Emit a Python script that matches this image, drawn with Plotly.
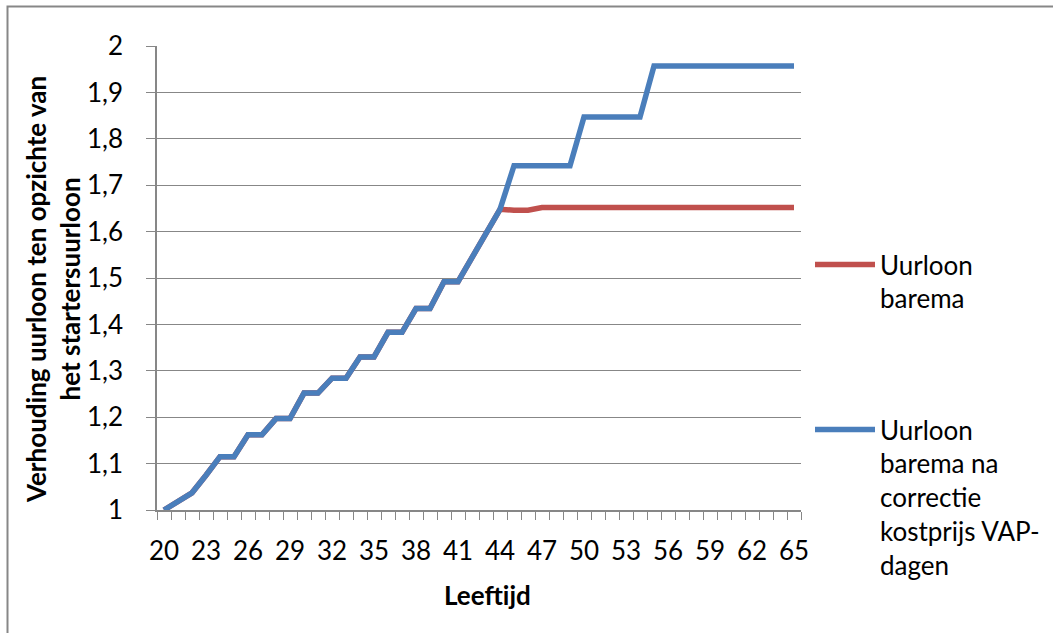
import plotly.graph_objects as go

# ---------------- data ----------------
ages = list(range(20, 66))

barema_blue = [
    1.000, 1.018, 1.037, 1.075, 1.115, 1.115, 1.162, 1.162, 1.197, 1.197,   # 20-29
    1.252, 1.252, 1.284, 1.284, 1.330, 1.330, 1.383, 1.383, 1.434, 1.434,   # 30-39
    1.492, 1.492, 1.545, 1.598, 1.648, 1.742, 1.742, 1.742, 1.742, 1.742,   # 40-49
    1.847, 1.847, 1.847, 1.847, 1.847, 1.957, 1.957, 1.957, 1.957, 1.957,   # 50-59
    1.957, 1.957, 1.957, 1.957, 1.957, 1.957,                               # 60-65
]

barema_red = [
    1.000, 1.018, 1.037, 1.075, 1.115, 1.115, 1.162, 1.162, 1.197, 1.197,   # 20-29
    1.252, 1.252, 1.284, 1.284, 1.330, 1.330, 1.383, 1.383, 1.434, 1.434,   # 30-39
    1.492, 1.492, 1.545, 1.598, 1.648, 1.646, 1.646, 1.652, 1.652, 1.652,   # 40-49
    1.652, 1.652, 1.652, 1.652, 1.652, 1.652, 1.652, 1.652, 1.652, 1.652,   # 50-59
    1.652, 1.652, 1.652, 1.652, 1.652, 1.652,                               # 60-65
]

x_tick_vals = list(range(20, 66, 3))
x_tick_text = [str(v) for v in x_tick_vals]
y_tick_vals = [1.0, 1.1, 1.2, 1.3, 1.4, 1.5, 1.6, 1.7, 1.8, 1.9, 2.0]
y_tick_text = ["1", "1,1", "1,2", "1,3", "1,4", "1,5", "1,6", "1,7", "1,8", "1,9", "2"]

name_red = "Uurloon<br>barema"
name_blue = "Uurloon<br>barema na<br>correctie<br>kostprijs VAP-<br>dagen"
x_title = "Leeftijd"
y_title = "Verhouding uurloon ten opzichte van<br>het startersuurloon"

# ---------------- layout constants (pixels) ----------------
W, H = 1053, 633
L, R, T, B = 157, 801, 46, 510
pw, ph = R - L, B - T

def px_x(p):
    return (p - L) / pw

def px_y(p):
    return (B - p) / ph

FONT = "Lato"
FS = 26
GRID = "#878787"
RED = "#C0504D"
BLUE = "#4A7EBB"

fig = go.Figure()
fig.add_trace(go.Scatter(
    x=ages, y=barema_red, mode="lines", name=name_red,
    line=dict(color=RED, width=5.5), legend="legend",
))
fig.add_trace(go.Scatter(
    x=ages, y=barema_blue, mode="lines", name=name_blue,
    line=dict(color=BLUE, width=5.5), legend="legend2",
))

fig.update_layout(
    width=W, height=H,
    margin=dict(l=L, r=W - R, t=T, b=H - B, autoexpand=False),
    paper_bgcolor="white", plot_bgcolor="white",
    font=dict(family=FONT, size=FS, color="black"),
    showlegend=True,
    legend=dict(
        x=px_x(810), y=px_y(241), xanchor="left", yanchor="top",
        valign="top", itemwidth=60, bgcolor="rgba(0,0,0,0)",
        font=dict(family=FONT, size=FS, color="black"),
    ),
    legend2=dict(
        x=px_x(810), y=px_y(406), xanchor="left", yanchor="top",
        valign="top", itemwidth=60, bgcolor="rgba(0,0,0,0)",
        font=dict(family=FONT, size=FS, color="black"),
    ),
    xaxis=dict(
        range=[19.5, 65.5], tickmode="array", tickvals=x_tick_vals,
        ticktext=x_tick_text, ticks="", showgrid=False, zeroline=False,
        showline=True, linecolor=GRID, linewidth=1.5,
        ticklabelstandoff=17, automargin=False,
        tickfont=dict(family=FONT, size=FS, color="black"),
        minor=dict(tick0=19.5, dtick=1, ticks="outside", ticklen=8,
                   tickcolor=GRID, tickwidth=1.3, showgrid=False),
    ),
    yaxis=dict(
        range=[1, 2], tickmode="array", tickvals=y_tick_vals,
        ticktext=y_tick_text, ticks="outside", ticklen=9, tickcolor=GRID,
        tickwidth=1.3, showgrid=True, gridcolor=GRID, gridwidth=1.3,
        zeroline=False, showline=True, linecolor=GRID, linewidth=1.5,
        ticklabelstandoff=18, automargin=False,
        tickfont=dict(family=FONT, size=FS, color="black"),
    ),
    annotations=[
        dict(text=y_title, x=px_x(53), y=px_y(290), xref="paper", yref="paper",
             xanchor="center", yanchor="middle", textangle=-90, showarrow=False,
             font=dict(family=FONT, size=FS, color="black", weight="bold")),
        dict(text=x_title, x=px_x(487), y=px_y(595), xref="paper", yref="paper",
             xanchor="center", yanchor="middle", showarrow=False,
             font=dict(family=FONT, size=FS, color="black", weight="bold")),
    ],
    shapes=[
        dict(type="rect", xref="paper", yref="paper",
             x0=px_x(7.5), x1=px_x(1100), y0=px_y(6.5), y1=px_y(700),
             line=dict(color=GRID, width=2), fillcolor="rgba(0,0,0,0)",
             layer="below"),
    ],
)

fig.write_html("out.html")
